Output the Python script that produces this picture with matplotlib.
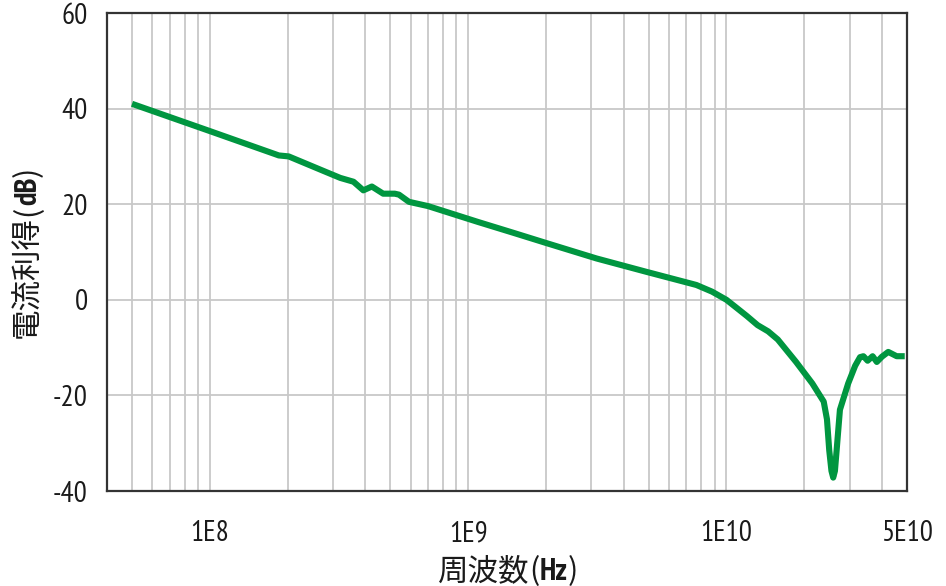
import matplotlib
matplotlib.use("Agg")
import matplotlib.pyplot as plt
import matplotlib.font_manager as fm
from matplotlib.ticker import FixedLocator, NullFormatter

# ---- data ----
freq_hz = [5.0e7, 1.0e8, 1.85e8, 2.02e8, 2.8e8, 3.2e8, 3.6e8, 3.93e8, 4.24e8, 4.69e8,
           5.2e8, 5.4e8, 5.9e8, 7.0e8, 1.09e9, 1.5e9, 2.0e9, 3.14e9, 4.9e9, 7.65e9,
           8.8e9, 1.0e10, 1.09e10, 1.2e10, 1.32e10, 1.45e10, 1.58e10, 1.86e10, 2.15e10,
           2.38e10, 2.45e10, 2.5e10, 2.55e10, 2.59e10, 2.63e10, 2.67e10, 2.75e10, 2.96e10,
           3.15e10, 3.29e10, 3.39e10, 3.52e10, 3.68e10, 3.82e10, 4.0e10, 4.23e10, 4.56e10,
           4.9e10]
gain_db = [41.0, 35.3, 30.2, 30.0, 26.8, 25.5, 24.7, 22.9, 23.7, 22.2,
           22.2, 22.0, 20.5, 19.6, 16.3, 14.0, 11.9, 8.65, 5.85, 3.1,
           1.7, 0.0, -1.6, -3.4, -5.3, -6.6, -8.3, -13.0, -17.5,
           -21.3, -25.0, -31.5, -35.8, -37.2, -35.8, -31.5, -23.0, -17.5,
           -13.8, -12.0, -11.8, -12.75, -11.8, -13.0, -11.9, -10.9, -11.8,
           -11.8]
xtick_vals = [1e8, 1e9, 1e10, 5e10]
xtick_labels = ["1E8", "1E9", "1E10", "5E10"]
ytick_vals = [-40, -20, 0, 20, 40, 60]
xlabel_parts = [("周波数", "normal"), ("(", "normal"), ("Hz", "bold"), (")", "normal")]
ylabel_parts = [("電流利得", "normal"), ("(", "normal"), ("dB", "bold"), (")", "normal")]

names = {f.name for f in fm.fontManager.ttflist}
latin = "PT Sans Narrow" if "PT Sans Narrow" in names else "DejaVu Sans"
cjk = "Noto Sans CJK JP"
plt.rcParams['font.family'] = [latin, cjk, 'DejaVu Sans']
TXT = "#1a1a1a"

W, H = 946, 586
fig = plt.figure(figsize=(W / 100, H / 100), dpi=100)
L, R, T, B = 107, 907, 13, 491
ax = fig.add_axes([L / W, 1 - B / H, (R - L) / W, (B - T) / H])

ax.plot(freq_hz, gain_db, color="#009640", lw=4.4, solid_joinstyle="round",
        solid_capstyle="butt", zorder=3)

ax.set_xscale("log")
ax.set_xlim(4e7, 5e10)
ax.set_ylim(-40, 60)

minor = []
for d in [1e7, 1e8, 1e9, 1e10]:
    for m in range(1, 10):
        v = m * d
        if 4e7 <= v <= 5e10:
            minor.append(v)
ax.xaxis.set_major_locator(FixedLocator(xtick_vals))
ax.set_xticklabels(xtick_labels)
ax.xaxis.set_minor_locator(FixedLocator(minor))
ax.xaxis.set_minor_formatter(NullFormatter())
ax.set_yticks(ytick_vals)
ax.set_yticklabels([str(v) for v in ytick_vals])

ax.grid(True, which="both", axis="x", color="#c8c8c8", lw=1.3)
ax.grid(True, which="major", axis="y", color="#c8c8c8", lw=1.3)
ax.set_axisbelow(True)
ax.tick_params(axis="both", which="both", length=0)
ax.tick_params(axis="x", pad=21, labelsize=21, labelcolor=TXT)
ax.tick_params(axis="y", pad=14, labelsize=21, labelcolor=TXT)
for s in ax.spines.values():
    s.set_color("#333333")
    s.set_linewidth(1.6)

# ---- composite axis labels with bold units ----
fig.canvas.draw()
renderer = fig.canvas.get_renderer()


def fam(txt):
    return [cjk, 'DejaVu Sans'] if any(ord(c) > 0x2000 for c in txt) or txt in "()" else [latin, cjk]


def hlabel(parts, cx, cy, size):
    texts = []
    for s, w in parts:
        t = fig.text(0, cy / H, s, fontsize=size, fontweight=w, family=fam(s),
                     ha="left", va="baseline", color=TXT)
        texts.append(t)
    widths = [t.get_window_extent(renderer).width for t in texts]
    x = cx - sum(widths) / 2
    for t, w in zip(texts, widths):
        t.set_x(x / W)
        x += w


def vlabel(parts, cx, cy, size):
    texts = []
    for s, w in parts:
        t = fig.text(cx / W, 0, s, fontsize=size, fontweight=w, family=fam(s),
                     ha="center", va="bottom", rotation=90, color=TXT)
        texts.append(t)
    hs = [t.get_window_extent(renderer).height for t in texts]
    y = cy - sum(hs) / 2
    for t, h in zip(texts, hs):
        t.set_y(y / H)
        y += h


hlabel(xlabel_parts, 508, H - 580, 22)
vlabel(ylabel_parts, 28, H - 252, 22)

fig.savefig("out.png", dpi=100)
